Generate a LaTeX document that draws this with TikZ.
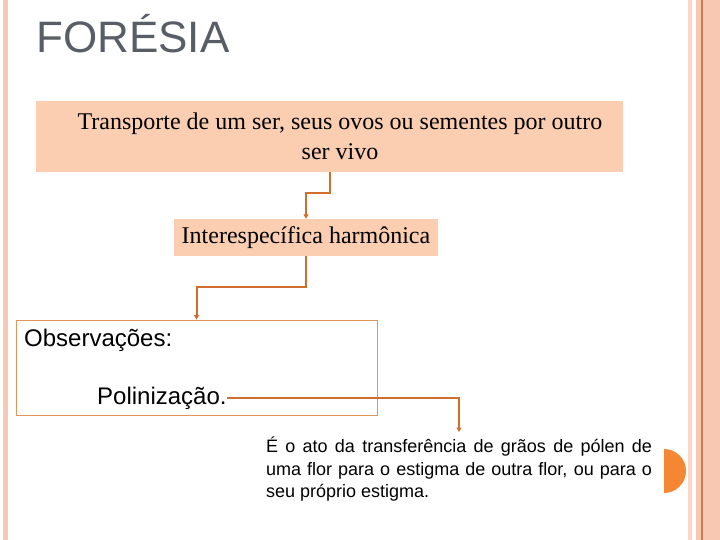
\documentclass[tikz,border=0pt]{standalone}
\usepackage{fontspec}
\setmainfont{Liberation Serif}
\setsansfont{Liberation Sans}
\usetikzlibrary{arrows.meta}

\definecolor{peach}{RGB}{251,206,177}
\definecolor{linkorange}{RGB}{208,110,45}
\definecolor{boxorange}{RGB}{222,150,95}
\definecolor{dotorange}{RGB}{245,134,52}
\definecolor{titlegray}{RGB}{89,94,102}
\definecolor{stripepink}{RGB}{249,200,178}
\definecolor{stripelight}{RGB}{251,216,198}
\definecolor{stripedark}{RGB}{205,125,80}

\begin{document}
\begin{tikzpicture}[x=1pt, y=-1pt,
    peachbox/.style={rectangle, fill=peach, inner sep=0pt},
    notebox/.style={rectangle, draw=boxorange, line width=0.8pt, inner sep=0pt},
    serif/.style={font=\fontsize{24}{30}\selectfont, align=center, inner sep=0pt},
    sans/.style={font=\sffamily\fontsize{24}{28}\selectfont, inner sep=0pt, anchor=west},
    link/.style={draw=linkorange, line width=2pt, -{Triangle[length=4.5pt,width=5pt]}}]

% Forésia

\useasboundingbox (0,0) rectangle (720,540);

% slide stripes
\fill[stripepink] (3,0) rectangle (8,540);
\fill[stripelight] (688,0) rectangle (692,540);
\fill[stripepink] (696,0) rectangle (701,540);
\fill[stripedark] (701,0) rectangle (703,540);
\fill[stripepink] (703,0) rectangle (720,540);
\fill[dotorange] (664,449) arc (-90:90:22) -- cycle;

\node[font=\sffamily\fontsize{44}{50}\selectfont, text=titlegray, anchor=base west, inner sep=0pt] (title) at (36,53) {FORÉSIA};

\node[peachbox, minimum width=587, minimum height=71] (trans) at (329.5,136.5) {};
\node[serif] (transtxt) at (340,136) {Transporte de um ser, seus ovos ou sementes por outro\\ser vivo};
\node[peachbox, serif, minimum width=264, minimum height=37] (inter) at (306,237.5) {Interespecífica harmônica};

\node[notebox, minimum width=361, minimum height=95] (obs) at (196.5,367.5) {};
\node[sans] (obstxt) at (24,340) {Observações:};
\node[sans] (poli) at (97,398) {Polinização.};

\node[font=\sffamily\fontsize{18}{22.5}\selectfont, text width=386pt, align=justify, inner sep=0pt, anchor=north] (def) at (459,437)
    {É o ato da transferência de grãos de pólen de\linebreak uma flor para o estigma de outra flor, ou para o\linebreak seu próprio estigma.};

\draw[link] (trans.south) -- ++(0,21) -| (inter.north);
\draw[link] (inter.south) -- ++(0,31) -| (obs.north);
\draw[link, shorten >=5pt] (poli.east) -| (def.north);

\end{tikzpicture}
\end{document}
